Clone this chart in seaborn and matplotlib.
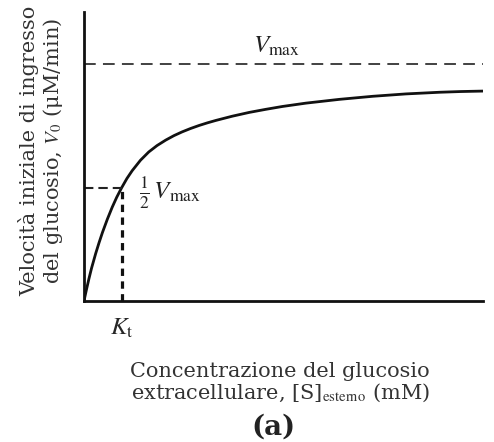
import pandas as pd
import matplotlib.pyplot as plt
import seaborn as sns

# Valori (concentrazione in unità di Kt, velocità in frazione di Vmax)
concentrazione = [0.0, 0.06, 0.13, 0.2, 0.31, 0.4, 0.49, 0.62, 0.75, 0.87, 1.0,
                  1.14, 1.28, 1.5, 1.72, 1.94, 2.17, 2.39, 2.61, 2.83, 3.06, 3.28,
                  3.5, 3.94, 4.39, 4.83, 5.27, 5.89, 6.78, 7.67, 8.55, 9.44, 10.0, 10.6]
velocita = [0.0, 0.044, 0.093, 0.138, 0.2, 0.246, 0.289, 0.345, 0.396, 0.438, 0.478,
            0.517, 0.55, 0.594, 0.629, 0.656, 0.679, 0.698, 0.714, 0.728, 0.741, 0.752,
            0.762, 0.78, 0.796, 0.809, 0.821, 0.835, 0.851, 0.864, 0.874, 0.881, 0.884, 0.886]
v_max = 1.0
v_mezzi = 0.478
k_t = 1.0

sns.set_style("white")
plt.rcParams["font.family"] = ["DejaVu Serif"]
plt.rcParams["mathtext.fontset"] = "stix"

dati = pd.DataFrame({"S": concentrazione, "V": velocita})

fig = plt.figure(figsize=(4.94, 4.42), dpi=100)
ax = fig.add_axes([0.170, 0.319, 0.808, 0.654])

sns.lineplot(data=dati, x="S", y="V", color="#111111", linewidth=2.0, ax=ax,
             solid_joinstyle="round", solid_capstyle="round")

# asintoto Vmax
ax.axhline(v_max, color="#333333", linewidth=1.3, dashes=(6.5, 4))
# 1/2 Vmax e Kt
ax.plot([0, k_t], [v_mezzi, v_mezzi], color="#222222", linewidth=1.5, dashes=(4.5, 2.4))
ax.plot([k_t, k_t], [0, v_mezzi], color="#111111", linewidth=2.3, dashes=(2.3, 1.7))

ax.text(5.1, 1.075, r"$V_{\mathrm{max}}$", fontsize=18, ha="center", va="center", color="#222222")
ax.text(1.45, 0.455, r"$\frac{1}{2}\,V_{\mathrm{max}}$", fontsize=18, ha="left", va="center",
        color="#222222")

ax.set_xlim(0, 10.6)
ax.set_ylim(0, 1.22)
ax.set_xticks([k_t])
ax.set_xticklabels([r"$K_{\mathrm{t}}$"], fontsize=18)
ax.tick_params(axis="x", length=0, pad=11)
ax.set_yticks([])
ax.set_xlabel("")
ax.set_ylabel("")

for lato in ["top", "right"]:
    ax.spines[lato].set_visible(False)
for lato in ["left", "bottom"]:
    ax.spines[lato].set_color("#111111")
    ax.spines[lato].set_linewidth(2.0)

fig.text(0.085, 0.658, "Velocità iniziale di ingresso\ndel glucosio, $V_0$ (μM/min)",
         rotation=90, fontsize=15, ha="center", va="center", color="#333333",
         linespacing=1.1)
fig.text(0.567, 0.133, "Concentrazione del glucosio\nextracellulare, [S]$_{\\mathrm{esterno}}$ (mM)",
         fontsize=15, ha="center", va="center", color="#333333", linespacing=1.05)
fig.text(0.553, 0.034, "(a)", fontsize=20, fontweight="bold", ha="center", va="center",
         color="#222222")

fig.savefig("out.png", dpi=100)
